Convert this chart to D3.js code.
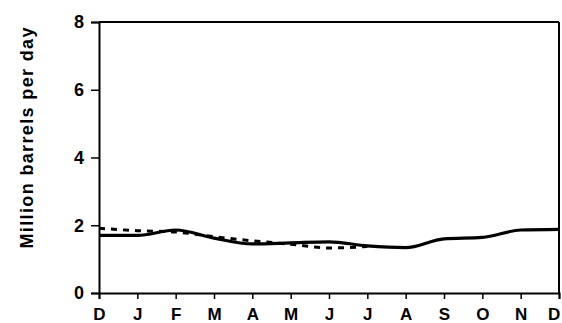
<!DOCTYPE html>
<html>
<head>
<meta charset="utf-8">
<script src="https://cdn.jsdelivr.net/npm/d3@7"></script>
<style>
  html, body { margin: 0; padding: 0; background: #fff; }
  svg { display: block; }
</style>
</head>
<body>
<svg id="chart" width="562" height="323"></svg>
<script>
// Month labels, December through December
const months = ["D", "J", "F", "M", "A", "M", "J", "J", "A", "S", "O", "N", "D"];
// Solid series, million barrels per day
const solidValues = [1.70, 1.70, 1.86, 1.62, 1.45, 1.48, 1.51, 1.39, 1.34, 1.60, 1.64, 1.86, 1.88];
// Dashed series, December through July
const dashedValues = [1.91, 1.84, 1.80, 1.66, 1.54, 1.44, 1.33, 1.37];
const yTicks = [0, 2, 4, 6, 8];

const svg = d3.select("#chart");
const margin = { left: 99, right: 3, top: 22, bottom: 30 };
const W = 562, H = 323;

const x = d3.scaleLinear().domain([0, months.length - 1]).range([margin.left, W - margin.right]);
const y = d3.scaleLinear().domain([0, 8]).range([H - margin.bottom, margin.top]);

const font = "'Liberation Sans', Arial, Helvetica, sans-serif";

// Frame: top and right edges
svg.append("line")
  .attr("x1", x(0)).attr("x2", x(12)).attr("y1", y(8)).attr("y2", y(8))
  .attr("stroke", "#000").attr("stroke-width", 2);
svg.append("line")
  .attr("x1", x(12)).attr("x2", x(12)).attr("y1", y(8)).attr("y2", y(0))
  .attr("stroke", "#000").attr("stroke-width", 2);

// Y axis
const yAxis = svg.append("g")
  .attr("transform", `translate(${x(0)},0)`)
  .call(d3.axisLeft(y).tickValues(yTicks).tickSize(8).tickPadding(7).tickFormat(d3.format("d")));
yAxis.select(".domain").attr("stroke-width", 2);
yAxis.selectAll(".tick line").attr("stroke-width", 1.5);
yAxis.selectAll("text")
  .style("font-family", font).style("font-size", "18px").style("font-weight", "bold").attr("fill", "#000");

// X axis
const xAxis = svg.append("g")
  .attr("transform", `translate(0,${y(0)})`)
  .call(d3.axisBottom(x).tickValues(d3.range(months.length)).tickSize(6).tickPadding(9)
    .tickFormat(i => months[i]));
xAxis.select(".domain").attr("stroke-width", 2);
xAxis.selectAll(".tick line").attr("stroke-width", 1.5);
xAxis.selectAll("text")
  .style("font-family", font).style("font-size", "17px").style("font-weight", "bold").attr("fill", "#000");
// keep the final label inside the right edge
xAxis.selectAll(".tick").filter((d, i, n) => i === n.length - 1)
  .select("text").attr("text-anchor", "end").attr("dx", "0.05em");

// Y axis title
svg.append("text")
  .attr("transform", `translate(33,138) rotate(-90)`)
  .attr("text-anchor", "middle")
  .attr("textLength", 221)
  .attr("lengthAdjust", "spacing")
  .style("font-family", font).style("font-size", "18px").style("font-weight", "bold")
  .text("Million barrels per day");

const line = d3.line()
  .x((d, i) => x(i))
  .y(d => y(d))
  .curve(d3.curveMonotoneX);

svg.append("path")
  .datum(dashedValues)
  .attr("d", line)
  .attr("fill", "none")
  .attr("stroke", "#000")
  .attr("stroke-width", 3)
  .attr("stroke-dasharray", "6,6");

svg.append("path")
  .datum(solidValues)
  .attr("d", line)
  .attr("fill", "none")
  .attr("stroke", "#000")
  .attr("stroke-width", 3.2);
</script>
</body>
</html>
